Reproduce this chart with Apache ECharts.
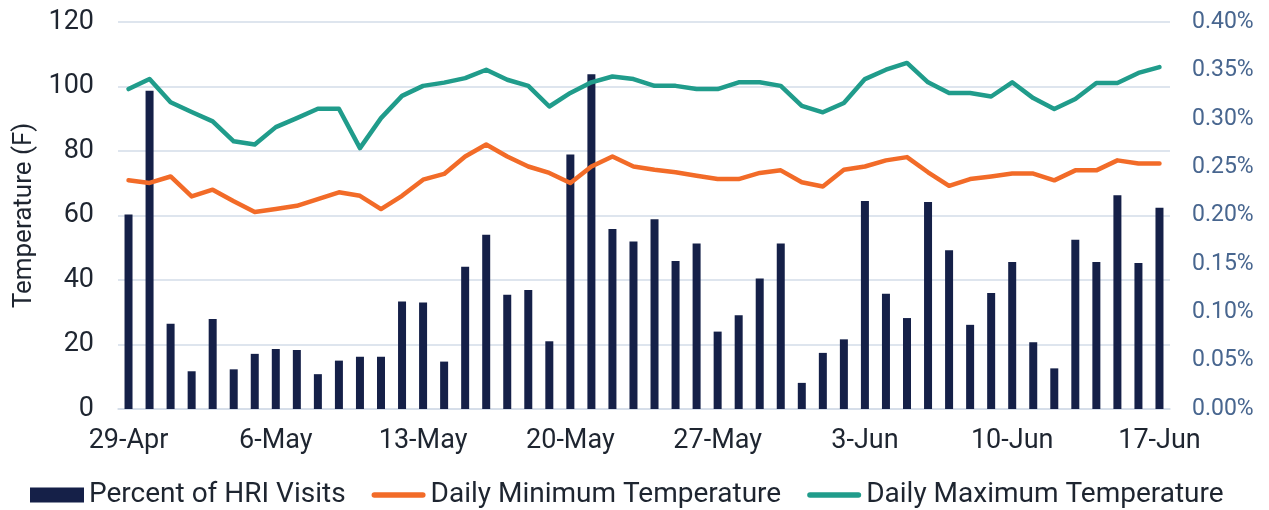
<!DOCTYPE html>
<html>
<head>
<meta charset="utf-8">
<script src="https://cdn.jsdelivr.net/npm/echarts@6/dist/echarts.min.js"></script>
<style>
html,body{margin:0;padding:0;background:#fff;}
#chart{width:1269px;height:510px;}
</style>
</head>
<body>
<div id="chart"></div>
<script>
var categories = ['29-Apr','30-Apr','1-May','2-May','3-May','4-May','5-May','6-May','7-May','8-May','9-May','10-May','11-May','12-May','13-May','14-May','15-May','16-May','17-May','18-May','19-May','20-May','21-May','22-May','23-May','24-May','25-May','26-May','27-May','28-May','29-May','30-May','31-May','1-Jun','2-Jun','3-Jun','4-Jun','5-Jun','6-Jun','7-Jun','8-Jun','9-Jun','10-Jun','11-Jun','12-Jun','13-Jun','14-Jun','15-Jun','16-Jun','17-Jun'];
var hriPercent = [0.201,0.329,0.088,0.039,0.093,0.041,0.057,0.062,0.061,0.036,0.050,0.054,0.054,0.111,0.110,0.049,0.147,0.180,0.118,0.123,0.070,0.263,0.346,0.186,0.173,0.196,0.153,0.171,0.080,0.097,0.135,0.171,0.027,0.058,0.072,0.215,0.119,0.094,0.214,0.164,0.087,0.120,0.152,0.069,0.042,0.175,0.152,0.221,0.151,0.208];
var minTemp = [70.9,70.1,72.1,65.9,68.0,64.4,61.1,62.0,63.0,65.1,67.2,66.1,62.0,66.1,71.1,72.9,78.3,82.0,78.3,75.2,73.2,70.1,75.2,78.3,75.2,74.2,73.4,72.3,71.3,71.3,73.2,74.0,70.3,69.0,74.2,75.2,77.1,78.1,73.4,69.2,71.3,72.1,73.0,73.0,70.9,74.0,74.0,77.1,76.1,76.1];
var maxTemp = [99.2,102.3,95.1,92.1,89.2,83.0,82.0,87.4,90.2,93.1,93.1,80.9,90.2,97.1,100.2,101.2,102.6,105.2,102.1,100.2,93.8,98.0,101.3,103.1,102.3,100.2,100.2,99.2,99.2,101.3,101.3,100.2,94.0,92.0,94.9,102.3,105.2,107.3,101.3,98.0,98.0,96.9,101.3,96.4,93.0,96.1,101.1,101.1,104.2,106.0];
var seriesNames = ['Percent of HRI Visits','Daily Minimum Temperature','Daily Maximum Temperature'];
var leftTicks = {min:0, max:120, interval:20};
var rightTicks = {min:0, max:0.4, interval:0.05};

var colors = {bar:'#152048', min:'#f26b28', max:'#209c8b'};
var pill = 'path://M3,0 L55,0 A3,3 0 0 1 55,6 L3,6 A3,3 0 0 1 3,0 Z';

var chart = echarts.init(document.getElementById('chart'));
var font = 'Roboto, "Noto Sans", sans-serif';
chart.setOption({
  animation:false,
  backgroundColor:'#ffffff',
  textStyle:{fontFamily:font},
  grid:{left:118,right:99,top:22,bottom:101,containLabel:false},
  legend:{
    data:[
      {name:seriesNames[0], icon:'rect', itemStyle:{color:colors.bar}},
      {name:seriesNames[1], icon:pill, itemStyle:{color:colors.min, borderWidth:0}},
      {name:seriesNames[2], icon:pill, itemStyle:{color:colors.max, borderWidth:0}}
    ],
    left:30, top:481, padding:0,
    itemWidth:54, itemHeight:15, itemGap:26, symbolKeepAspect:true,
    textStyle:{fontSize:28,color:'#1e2530',fontFamily:font}
  },
  xAxis:{
    type:'category', data:categories, boundaryGap:true,
    axisLine:{lineStyle:{color:'#d3dce8',width:1.5}},
    axisTick:{show:false},
    axisLabel:{interval:6,fontSize:27,color:'#1e2530',margin:19,fontFamily:font}
  },
  yAxis:[
    {type:'value', min:leftTicks.min, max:leftTicks.max, interval:leftTicks.interval,
     name:'Temperature (F)', nameLocation:'middle', nameGap:80, nameRotate:90,
     nameTextStyle:{fontSize:26,color:'#1e2530',fontFamily:font},
     axisLine:{show:false}, axisTick:{show:false},
     axisLabel:{fontSize:27,color:'#1e2530',margin:24,fontFamily:font},
     splitLine:{lineStyle:{color:'#d3dce8',width:1.5}}},
    {type:'value', min:rightTicks.min, max:rightTicks.max, interval:rightTicks.interval,
     position:'right',
     axisLine:{show:false}, axisTick:{show:false},
     axisLabel:{fontSize:23,color:'#48668f',margin:22,fontFamily:font,
       formatter:function(v){return v.toFixed(2)+'%';}},
     splitLine:{show:false}}
  ],
  series:[
    {name:seriesNames[0], type:'bar', yAxisIndex:1, data:hriPercent, barWidth:8,
     itemStyle:{color:colors.bar}},
    {name:seriesNames[1], type:'line', yAxisIndex:0, data:minTemp, symbol:'none',
     lineStyle:{color:colors.min,width:4.5,cap:'round',join:'round'}, itemStyle:{color:colors.min}},
    {name:seriesNames[2], type:'line', yAxisIndex:0, data:maxTemp, symbol:'none',
     lineStyle:{color:colors.max,width:4.5,cap:'round',join:'round'}, itemStyle:{color:colors.max}}
  ]
});
</script>
</body>
</html>
